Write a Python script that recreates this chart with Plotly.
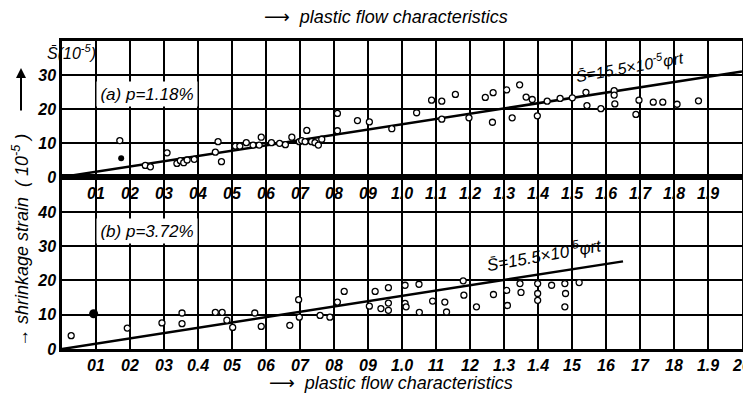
import plotly.graph_objects as go

# ---------------- data ----------------
# panel (a) p=1.18%
a_x = [0.17, 0.245, 0.26, 0.309, 0.338, 0.348, 0.358, 0.368, 0.389, 0.451, 0.459, 0.469,
       0.51, 0.523, 0.542, 0.562, 0.58, 0.586, 0.616, 0.64, 0.657, 0.676, 0.698,
       0.705, 0.72, 0.715, 0.734, 0.744, 0.754, 0.764, 0.81, 0.81, 0.869, 0.904, 0.97,
       1.043, 1.087, 1.117, 1.117, 1.157, 1.197, 1.245, 1.268, 1.266, 1.308, 1.324, 1.346,
       1.365, 1.383, 1.398, 1.427, 1.465, 1.501, 1.541, 1.544, 1.585, 1.624, 1.624, 1.626,
       1.688, 1.697, 1.739, 1.767, 1.809, 1.872]
a_y = [10.7, 3.4, 3.0, 7.1, 4.0, 4.8, 4.2, 5.0, 5.2, 7.3, 10.4, 4.5,
       9.1, 9.1, 10.1, 9.4, 9.4, 11.7, 10.1, 9.9, 9.5, 11.7, 10.4,
       10.7, 13.7, 10.4, 10.4, 10.1, 9.4, 11.1, 18.7, 13.6, 16.6, 16.2, 14.2,
       18.9, 22.6, 22.3, 17.0, 24.3, 17.4, 23.4, 24.8, 16.1, 25.6, 17.4, 27.1,
       23.5, 22.8, 18.0, 22.3, 23.1, 23.3, 24.9, 21.0, 20.1, 25.4, 24.1, 21.5,
       18.4, 22.6, 22.0, 22.0, 21.4, 22.4]
a_fill_x = [0.174]
a_fill_y = [5.5]

# panel (b) p=3.72%
b_x = [0.027, 0.192, 0.294, 0.353, 0.353, 0.451, 0.471, 0.485, 0.502, 0.567, 0.586,
       0.67, 0.696, 0.698, 0.759, 0.788, 0.81, 0.83, 0.904, 0.921, 0.938, 0.96, 0.96,
       0.96, 1.009, 1.009, 1.012, 1.05, 1.051, 1.09, 1.126, 1.131, 1.18, 1.182, 1.219,
       1.269, 1.308, 1.31, 1.347, 1.35, 1.399, 1.399, 1.399, 1.44, 1.479, 1.481, 1.479,
       1.521]
b_y = [3.9, 6.1, 7.6, 10.5, 7.4, 10.7, 10.7, 8.4, 6.3, 10.5, 6.6,
       6.9, 14.4, 9.3, 9.8, 9.3, 13.7, 16.8, 12.5, 16.8, 11.8, 17.9, 13.4,
       11.3, 18.6, 13.3, 12.3, 18.9, 10.7, 14.0, 13.7, 10.8, 19.9, 15.7, 12.3,
       15.9, 17.1, 12.7, 19.1, 16.5, 19.1, 16.2, 14.2, 18.6, 19.1, 16.2, 12.3,
       19.4]
b_fill_x = [0.093]
b_fill_y = [10.3]

fit_slope = 15.5          # S = 15.5 x 10^-5 * phi
a_line_x = [0.0, 2.0]
b_line_x = [0.0, 1.65]

x_tickvals = [round(0.1 * i, 1) for i in range(1, 21)]
a_ticktext = ["01", "02", "03", "04", "05", "06", "07", "08", "09", "1.0",
              "1.1", "1.2", "1.3", "1.4", "1.5", "1.6", "1.7", "1.8", "1.9", "2.0"]
b_ticktext = ["01", "02", "03", "0.4", "05", "06", "07", "08", "09", "1.0",
              "11", "12", "1.3", "1.4", "15", "16", "17", "18", "1.9", "20"]
a_yticks = [0, 10, 20, 30]
b_yticks = [0, 10, 20, 30, 40]

# ---------------- figure ----------------
FONT = "Liberation Sans Narrow, Liberation Sans, DejaVu Sans"
tickfont = dict(family=FONT, size=16, color="black", style="italic", weight="bold")

fig = go.Figure()

open_marker = dict(symbol="circle", size=6, color="white", line=dict(color="black", width=1.3))

# panel a
fig.add_trace(go.Scatter(x=a_line_x, y=[fit_slope * v for v in a_line_x], mode="lines",
                         line=dict(color="black", width=2.5), xaxis="x2", yaxis="y2",
                         showlegend=False, hoverinfo="skip"))
fig.add_trace(go.Scatter(x=a_x, y=a_y, mode="markers", marker=open_marker,
                         xaxis="x2", yaxis="y2", showlegend=False))
fig.add_trace(go.Scatter(x=a_fill_x, y=a_fill_y, mode="markers",
                         marker=dict(size=6, color="black"), xaxis="x2", yaxis="y2",
                         showlegend=False))
# panel b
fig.add_trace(go.Scatter(x=b_line_x, y=[fit_slope * v for v in b_line_x], mode="lines",
                         line=dict(color="black", width=2.5), xaxis="x", yaxis="y",
                         showlegend=False, hoverinfo="skip"))
fig.add_trace(go.Scatter(x=b_x, y=b_y, mode="markers", marker=open_marker,
                         xaxis="x", yaxis="y", showlegend=False))
fig.add_trace(go.Scatter(x=b_fill_x, y=b_fill_y, mode="markers",
                         marker=dict(size=9, color="black"), xaxis="x", yaxis="y",
                         showlegend=False))

split = 172 / 308.0
axcommon = dict(showgrid=True, gridcolor="black", gridwidth=1.6, showline=True,
                linecolor="black", linewidth=2.5, mirror=True, zeroline=False,
                ticks="", tickfont=tickfont, automargin=False)

# the page body adds an 8 px offset; compensate so the plot area lands at 62..742 / 41..349
fig.update_layout(
    width=743, height=388,
    margin=dict(l=54, r=9, t=33, b=47, autoexpand=False),
    paper_bgcolor="white", plot_bgcolor="white",
    xaxis=dict(axcommon, range=[0, 2.0], tickvals=x_tickvals, ticktext=b_ticktext,
               anchor="y", domain=[0, 1]),
    yaxis=dict(axcommon, range=[0, 50.2], tickvals=b_yticks, anchor="x",
               domain=[0, split]),
    xaxis2=dict(axcommon, range=[0, 2.0], tickvals=x_tickvals, ticktext=a_ticktext,
                anchor="y2", domain=[0, 1]),
    yaxis2=dict(axcommon, range=[0, 40], tickvals=a_yticks, anchor="x2",
                domain=[split, 1]),
)

def px(xp):
    return (xp - 62) / 680.0

def py(yp):
    return (349 - yp) / 308.0

txt = dict(family=FONT, size=17, color="black", style="italic")
C = dict(xanchor="center", yanchor="middle", showarrow=False)

fig.add_annotation(x=0.1, y=24.3, xref="x2", yref="y2", xanchor="left", yanchor="middle",
                   text="(a) p=1.18%", showarrow=False, bgcolor="white", width=100, height=24,
                   borderpad=0, font=txt)
fig.add_annotation(x=0.1, y=34.5, xref="x", yref="y", xanchor="left", yanchor="middle",
                   text="(b) p=3.72%", showarrow=False, bgcolor="white", width=100, height=24,
                   borderpad=0, font=txt)
fig.add_annotation(C, x=1.67, y=32.6, xref="x2", yref="y2", textangle=-10,
                   text="S\u0304=15.5\u00d710<sup>-5</sup>\u03c6rt", font=dict(txt, size=16))
fig.add_annotation(C, x=1.42, y=27.6, xref="x", yref="y", textangle=-10,
                   text="S\u0304=15.5\u00d710<sup>-5</sup>\u03c6rt", font=txt)
fig.add_annotation(C, x=px(71), y=py(52), xref="paper", yref="paper",
                   text="S\u0304(10<sup>-5</sup>)", font=dict(txt, size=16))
fig.add_annotation(C, x=px(386), y=py(17), xref="paper", yref="paper",
                   text="\u27f6  plastic flow characteristics", font=dict(txt, size=18))
fig.add_annotation(C, x=px(391), y=py(383), xref="paper", yref="paper",
                   text="\u27f6  plastic flow characteristics", font=dict(txt, size=18))
fig.add_annotation(C, x=px(20), y=py(241), xref="paper", yref="paper", textangle=-90,
                   text="\u2192 shrinkage strain  ( 10<sup>-5</sup> )",
                   font=dict(txt, size=18))
fig.add_annotation(x=px(21), y=py(68), ax=0, ay=44, xref="paper", yref="paper",
                   axref="pixel", ayref="pixel", text="", showarrow=True,
                   arrowhead=2, arrowsize=1, arrowwidth=2, arrowcolor="black")

fig.write_html("out.html")
